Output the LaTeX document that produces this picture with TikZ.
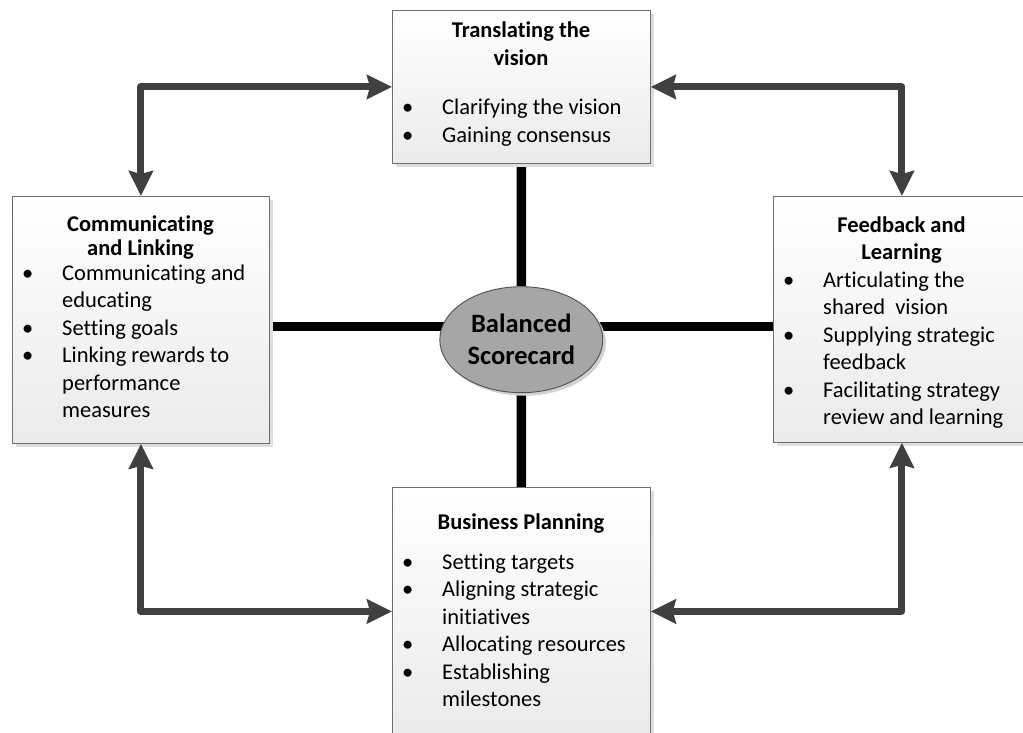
\documentclass[tikz,border=0pt]{standalone}
\usepackage{fontspec}
\setmainfont{Carlito}[RawFeature=-liga]
\usetikzlibrary{arrows.meta,shapes.geometric,shadows,backgrounds,calc}

\definecolor{arrowgray}{HTML}{404040}
\definecolor{boxedge}{HTML}{6E6E6E}
\definecolor{hubfill}{HTML}{A6A6A6}
\definecolor{hubedge}{HTML}{505050}

% text sizes
\newcommand\panelfont{\fontsize{22.5}{27.5}\selectfont}
\newcommand\hubfont{\fontsize{26.5}{32}\selectfont\bfseries}
% bullet cell of a list row
\newcommand\bul{\makebox[40pt][l]{\textbullet}}

\tikzset{
  panel/.style={draw=boxedge, line width=0.8pt, top color=white, bottom color=black!8,
    drop shadow={shadow xshift=4pt, shadow yshift=-4pt, fill=black!13, opacity=1},
    inner sep=0pt, anchor=north west},
  heading/.style={anchor=base, inner sep=0pt, font=\panelfont\bfseries},
  items/.style={anchor=base west, inner sep=0pt, font=\panelfont},
  hubstyle/.style={ellipse, draw=hubedge, line width=0.9pt, fill=hubfill, inner sep=0pt,
    minimum width=163pt, minimum height=106pt, align=center, font=\hubfont,
    drop shadow={shadow xshift=3pt, shadow yshift=-3pt, fill=black!18, opacity=1}},
  spoke/.style={draw=black, line width=9.5pt},
  link/.style={draw=arrowgray, line width=7pt, line join=round,
    {Stealth[length=25pt,width=24pt,inset=3pt]}-{Stealth[length=25pt,width=24pt,inset=3pt]}}
}

\begin{document}
\begin{tikzpicture}[x=1pt, y=-1pt]
\useasboundingbox (0,0) rectangle (1023,733);

% the four perspective panels
\node[panel, minimum width=258pt, minimum height=153pt] (tb) at (392,10) {};
\node[panel, minimum width=257pt, minimum height=247pt] (lb) at (12,196) {};
\node[panel, minimum width=257pt, minimum height=246pt] (rb) at (773,196) {};
\node[panel, minimum width=258pt, minimum height=248pt] (bb) at (392,487) {};

% central hub
\node[hubstyle] (hub) at (521.3,339.7) {Balanced\\Scorecard};

% spokes from the hub to each panel
\begin{scope}[on background layer]
  \draw[spoke] (tb.south) -- (hub.north);
  \draw[spoke] (hub.south) -- (bb.north);
  \draw[spoke] ([yshift=-6.5pt]lb.east) -- ([yshift=-6.5pt]lb.east -| hub.center);
  \draw[spoke] ([yshift=-7pt]rb.west) -- ([yshift=-7pt]rb.west -| hub.center);
\end{scope}

% two-way links between neighbouring panels
\draw[link] (lb.north) |- (tb.west);
\draw[link] (rb.north) |- (tb.east);
\draw[link] (lb.south) |- (bb.west);
\draw[link] (rb.south) |- (bb.east);

% panel texts
\node[heading] (tbh) at (521,38) {\begin{tabular}[t]{@{}c@{}}Translating the\\ vision\end{tabular}};
\node[items] (tbl) at (402,115) {\begin{tabular}[t]{@{}l@{}l@{}}
  \bul & Clarifying the vision\\
  \bul & Gaining consensus
\end{tabular}};

\node[heading] (lbh) at (140.5,231) {\begin{tabular}[t]{@{}c@{}}Communicating\\[-3pt] and Linking\end{tabular}};
\node[items] (lbl) at (22,280) {\begin{tabular}[t]{@{}l@{}l@{}}
  \bul & Communicating and\\
       & educating\\
  \bul & Setting goals\\
  \bul & Linking rewards to\\
       & performance\\
       & measures
\end{tabular}};

\node[heading] (rbh) at (901.5,232) {\begin{tabular}[t]{@{}c@{}}Feedback and\\ Learning\end{tabular}};
\node[items] (rbl) at (783,287) {\begin{tabular}[t]{@{}l@{}l@{}}
  \bul & Articulating the\\
       & shared\ \ vision\\
  \bul & Supplying strategic\\
       & feedback\\
  \bul & Facilitating strategy\\
       & review and learning
\end{tabular}};

\node[heading] (bbh) at (521,529) {\begin{tabular}[t]{@{}c@{}}Business Planning\end{tabular}};
\node[items] (bbl) at (402,569) {\begin{tabular}[t]{@{}l@{}l@{}}
  \bul & Setting targets\\
  \bul & Aligning strategic\\
       & initiatives\\
  \bul & Allocating resources\\
  \bul & Establishing\\
       & milestones
\end{tabular}};
\end{tikzpicture}
\end{document}
